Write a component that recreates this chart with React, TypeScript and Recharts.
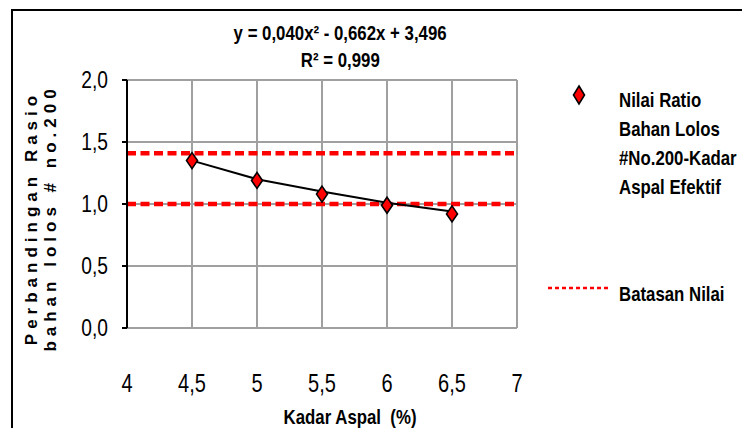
import React from 'react';
import {
  ComposedChart,
  Scatter,
  Line,
  XAxis,
  YAxis,
  CartesianGrid,
  ReferenceLine,
} from 'recharts';

// ---- data ----
const xTicks = [4, 4.5, 5, 5.5, 6, 6.5, 7];
const yTicks = [0, 0.5, 1, 1.5, 2];
const kadarAspal = [4.5, 5, 5.5, 6, 6.5];
const nilaiRatio = [1.35, 1.19, 1.08, 0.99, 0.92];
const trendValues = [1.35, 1.2, 1.1, 1.01, 0.94];
const batasanNilai = [1.41, 1.0];
const seriesName = ['Nilai Ratio', 'Bahan Lolos', '#No.200-Kadar', 'Aspal Efektif'];
const limitName = 'Batasan Nilai';
const titleLine1 = 'y = 0,040x² - 0,662x + 3,496';
const titleLine2 = 'R² = 0,999';
const yTitle = ['Perbandingan Rasio', 'bahan lolos # no.200'];
const xTitle = 'Kadar Aspal  (%)';

const data = kadarAspal.map((x, i) => ({ x, ratio: nilaiRatio[i], trend: trendValues[i] }));

const ARIAL = '"Liberation Sans", Arial, sans-serif';
const NARROW_SCALE = 0.8;

const Narrow = ({ children, origin = 'center' }: { children: React.ReactNode; origin?: string }) => (
  <span style={{ display: 'inline-block', whiteSpace: 'pre', transform: `scaleX(${NARROW_SCALE})`, transformOrigin: origin }}>
    {children}
  </span>
);

const Diamond = (props: any) => {
  const { cx, cy } = props;
  if (cx == null || cy == null) return null;
  const w = 5.5, h = 8;
  return (
    <polygon
      points={`${cx},${cy - h} ${cx + w},${cy} ${cx},${cy + h} ${cx - w},${cy}`}
      fill="#ff0000"
      stroke="#000"
      strokeWidth={1.6}
    />
  );
};

const XTick = (props: any) => {
  const { x, y, payload } = props;
  const v = payload.value as number;
  const label = Number.isInteger(v) ? String(v) : String(v).replace('.', ',');
  return (
    <text transform={`translate(${x},${y + 56}) scale(${NARROW_SCALE},1)`} x={0} y={0}
      textAnchor="middle" dominantBaseline="central"
      style={{ fontFamily: ARIAL, fontSize: 25, fill: '#000' }}>
      {label}
    </text>
  );
};

const YTick = (props: any) => {
  const { x, y, payload } = props;
  const v = payload.value as number;
  return (
    <text transform={`translate(${x},${y}) scale(${NARROW_SCALE},1)`} x={0} y={0}
      textAnchor="end" dominantBaseline="central"
      style={{ fontFamily: ARIAL, fontSize: 24, fill: '#000' }}>
      {v.toFixed(1).replace('.', ',')}
    </text>
  );
};

export default function App() {
  return (
    <div style={{ position: 'absolute', left: 0, top: 0, width: 742, height: 428, overflow: 'hidden', background: '#fff' }}>
      <div style={{ position: 'absolute', left: 11, top: 9, width: 731, height: 419, borderLeft: '2px solid #000', borderTop: '2px solid #000' }} />
      <ComposedChart
        width={742}
        height={428}
        data={data}
        margin={{ top: 80, right: 225, bottom: 0, left: 0 }}
        style={{ position: 'absolute', left: 0, top: 0 }}
      >
        <CartesianGrid stroke="#a0a0a0" strokeWidth={2} />
        <XAxis
          type="number"
          dataKey="x"
          domain={[4, 7]}
          ticks={xTicks}
          height={100}
          axisLine={false}
          tickLine={false}
          tickSize={0}
          tickMargin={0}
          tick={<XTick />}
          interval={0}
        />
        <YAxis
          type="number"
          domain={[0, 2]}
          ticks={yTicks}
          width={127}
          axisLine={{ stroke: '#000', strokeWidth: 2 }}
          tickLine={{ stroke: '#000', strokeWidth: 2 }}
          tickSize={5}
          tickMargin={14}
          tick={<YTick />}
          interval={0}
        />
        {batasanNilai.map((v, i) => (
          <ReferenceLine key={i} y={v} stroke="#ff0000" strokeWidth={4.5} strokeDasharray="9 4.5" />
        ))}
        <Scatter dataKey="ratio" shape={<Diamond />} isAnimationActive={false} />
        <Line dataKey="trend" type="linear" stroke="#000" strokeWidth={2} dot={false} isAnimationActive={false} />
      </ComposedChart>

      {/* title */}
      <div style={{ position: 'absolute', left: 140, width: 400, top: 19, textAlign: 'center', fontFamily: ARIAL, fontWeight: 'bold', fontSize: 21, lineHeight: '27px', color: '#000' }}>
        <div><Narrow>{titleLine1}</Narrow></div>
        <div><Narrow>{titleLine2}</Narrow></div>
      </div>

      {/* y axis title */}
      <div style={{ position: 'absolute', left: 41, top: 218, width: 0, height: 0 }}>
        <div style={{ position: 'absolute', transform: 'translate(-50%, -50%) rotate(-90deg)', whiteSpace: 'nowrap', textAlign: 'center', fontFamily: ARIAL, fontWeight: 'bold', fontSize: 17, lineHeight: '19px', letterSpacing: 5, color: '#000' }}>
          <div>{yTitle[0]}</div>
          <div>{yTitle[1]}</div>
        </div>
      </div>

      {/* x axis title */}
      <div style={{ position: 'absolute', left: 150, width: 400, top: 404, textAlign: 'center', fontFamily: ARIAL, fontWeight: 'bold', fontSize: 21, lineHeight: '26px', color: '#000' }}>
        <Narrow>{xTitle}</Narrow>
      </div>

      {/* legend */}
      <svg style={{ position: 'absolute', left: 540, top: 80 }} width={80} height={230}>
        <polygon points="39,6 44.5,15 39,24 33.5,15" fill="#ff0000" stroke="#000" strokeWidth={1.6} />
        <line x1={8} y1={208} x2={69} y2={208} stroke="#ff0000" strokeWidth={2.5} strokeDasharray="4 3" />
      </svg>
      <div style={{ position: 'absolute', left: 619, top: 85, fontFamily: ARIAL, fontWeight: 'bold', fontSize: 21, lineHeight: '29px', color: '#000' }}>
        {seriesName.map((s, i) => <div key={i}><Narrow origin="left">{s}</Narrow></div>)}
      </div>
      <div style={{ position: 'absolute', left: 619, top: 279, fontFamily: ARIAL, fontWeight: 'bold', fontSize: 21, lineHeight: '29px', color: '#000' }}>
        <Narrow origin="left">{limitName}</Narrow>
      </div>
    </div>
  );
}
